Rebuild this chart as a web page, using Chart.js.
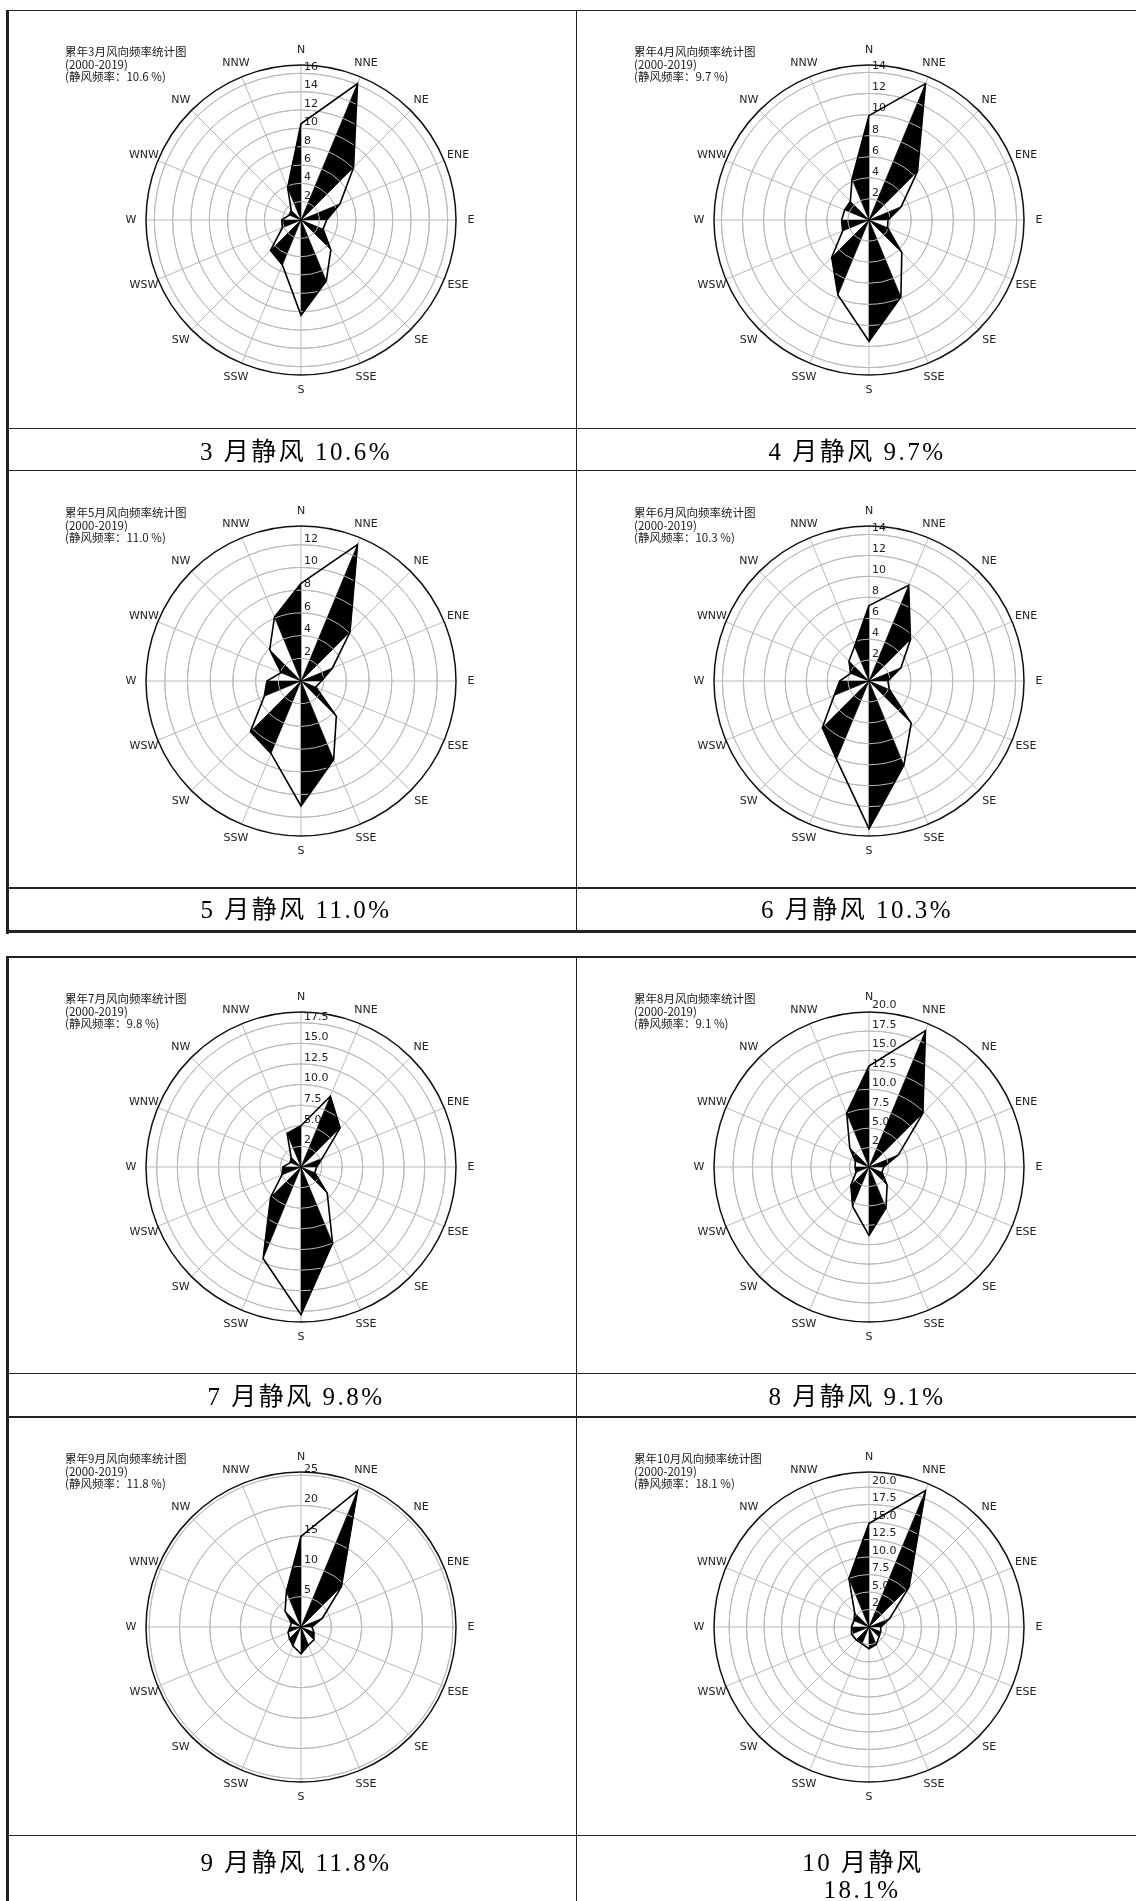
<!DOCTYPE html>
<html>
<head>
<meta charset="utf-8">
<script src="https://cdn.jsdelivr.net/npm/chart.js@4.4.1/dist/chart.umd.min.js"></script>
<style>
html,body{margin:0;padding:0;background:#fff;}
body{width:1136px;height:1901px;position:relative;overflow:hidden;}
.ln{position:absolute;background:#222;}
canvas{position:absolute;}
.title{position:absolute;font-family:"Noto Sans CJK SC","DejaVu Sans",sans-serif;font-size:11.5px;line-height:12.5px;color:#1a1a1a;white-space:pre;z-index:2;}
.cap{position:absolute;font-family:"Liberation Serif","Noto Sans CJK SC",serif;font-size:25px;letter-spacing:2.5px;color:#000;white-space:pre;transform:translate(-50%,-50%);line-height:1.2;}
</style>
</head>
<body>
<script>
// ---------------- data ----------------
const directions = ['N','NNE','NE','ENE','E','ESE','SE','SSE','S','SSW','SW','WSW','W','WNW','NW','NNW'];
const months = ['3','4','5','6','7','8','9','10'];
const calmRates = ['10.6','9.7','11.0','10.3','9.8','9.1','11.8','18.1'];
const period = '(2000-2019)';

const freqMar = [10.5, 16.1, 8.1, 4.6, 2.8, 2.6, 4.6, 7.2, 10.4, 5.3, 4.7, 2.2, 2.1, 1.4, 1.5, 3.8];
const freqApr = [9.9, 14.0, 6.5, 3.3, 1.8, 1.9, 4.4, 7.9, 11.5, 7.7, 5.0, 2.7, 2.6, 2.5, 2.5, 4.2];
const freqMay = [8.6, 13.0, 6.1, 3.0, 1.8, 1.4, 4.4, 7.5, 11.0, 6.9, 6.3, 3.5, 3.0, 1.9, 3.9, 6.1];
const freqJun = [7.2, 9.9, 5.6, 3.3, 1.8, 2.1, 5.7, 8.7, 14.1, 8.1, 6.3, 3.6, 2.8, 1.9, 2.7, 3.6];
const freqJul = [5.0, 9.3, 6.7, 2.8, 1.9, 1.8, 4.5, 10.0, 17.9, 12.0, 5.2, 2.5, 2.2, 1.4, 1.7, 4.4];
const freqAug = [13.0, 19.0, 9.8, 4.1, 1.9, 1.8, 3.3, 5.7, 8.8, 5.5, 3.3, 1.8, 1.8, 1.9, 3.5, 7.5];
const freqSep = [14.9, 24.3, 9.4, 3.8, 1.8, 2.3, 3.0, 3.2, 4.4, 3.4, 2.7, 2.3, 1.8, 1.7, 3.7, 6.3];
const freqOct = [14.8, 21.1, 8.1, 3.2, 1.7, 1.8, 2.0, 2.7, 3.1, 2.6, 2.6, 2.7, 2.5, 2.3, 2.9, 7.5];

const ticksMar = ['2','4','6','8','10','12','14','16'];
const ticksApr = ['2','4','6','8','10','12','14'];
const ticksMay = ['2','4','6','8','10','12'];
const ticksJun = ['2','4','6','8','10','12','14'];
const ticksJul = ['2.5','5.0','7.5','10.0','12.5','15.0','17.5'];
const ticksAug = ['2.5','5.0','7.5','10.0','12.5','15.0','17.5','20.0'];
const ticksSep = ['5','10','15','20','25'];
const ticksOct = ['2.5','5.0','7.5','10.0','12.5','15.0','17.5','20.0'];

const allFreq = [freqMar, freqApr, freqMay, freqJun, freqJul, freqAug, freqSep, freqOct];
const allTicks = [ticksMar, ticksApr, ticksMay, ticksJun, ticksJul, ticksAug, ticksSep, ticksOct];

// ---------------- layout ----------------
const centersX = [301, 869];
const centersY = [220, 681, 1167, 1627];
const titleX = [65, 634];
const SIZE = 440, PAD = 65;

function line(x, y, w, h) {
  const d = document.createElement('div');
  d.className = 'ln';
  d.style.left = x + 'px'; d.style.top = y + 'px';
  d.style.width = w + 'px'; d.style.height = h + 'px';
  document.body.appendChild(d);
}
// table 1
line(6, 9.5, 1130, 1.5);
line(6, 9.5, 3, 924);
line(6, 427.5, 1130, 1.5);
line(6, 469.8, 1130, 1.5);
line(6, 887, 1130, 1.5);
line(6, 929.5, 1130, 3.5);
line(576, 9.5, 1, 921);
// table 2
line(6, 956, 1130, 1.5);
line(6, 956, 3, 945);
line(6, 1372.5, 1130, 1.5);
line(6, 1416, 1130, 1.5);
line(6, 1834.5, 1130, 1.5);
line(576, 956, 1, 945);

function caption(text, x, y) {
  const d = document.createElement('div');
  d.className = 'cap';
  d.textContent = text;
  d.style.left = x + 'px'; d.style.top = y + 'px';
  document.body.appendChild(d);
}
const capX = [296, 857];
const capY = [451.5, 910, 1396.5, 1863];

const pairs = [[15,0],[1,2],[3,4],[5,6],[7,8],[9,10],[11,12],[13,14]];

const windRosePlugin = {
  id: 'windrose',
  beforeDatasetsDraw(chart, args, opts) {
    const s = chart.scales.r, ctx = chart.ctx;
    ctx.save();
    ctx.font = '11px "DejaVu Sans"';
    ctx.fillStyle = '#222';
    ctx.textAlign = 'left';
    ctx.textBaseline = 'middle';
    opts.tickLabels.forEach(t => {
      const r = s.getDistanceFromCenterForValue(parseFloat(t));
      ctx.fillText(t, s.xCenter + 3, s.yCenter - r - 6);
    });
    ctx.restore();
  },
  afterDatasetDraw(chart, args) {
    if (args.index !== 1) return;
    const s = chart.scales.r, ctx = chart.ctx;
    ctx.save();
    ctx.strokeStyle = '#b9b9b9';
    ctx.lineWidth = 1;
    s.ticks.forEach(t => {
      if (t.value <= 0) return;
      const r = s.getDistanceFromCenterForValue(t.value);
      ctx.beginPath();
      ctx.arc(s.xCenter, s.yCenter, r, 0, Math.PI * 2);
      ctx.stroke();
    });
    ctx.restore();
  },
  afterDatasetsDraw(chart) {
    const s = chart.scales.r, ctx = chart.ctx;
    ctx.save();
    ctx.strokeStyle = '#111';
    ctx.lineWidth = 1.5;
    ctx.beginPath();
    ctx.arc(s.xCenter, s.yCenter, s.drawingArea, 0, Math.PI * 2);
    ctx.stroke();
    ctx.font = '11px "DejaVu Sans"';
    ctx.fillStyle = '#222';
    ctx.textAlign = 'center';
    ctx.textBaseline = 'middle';
    chart.data.labels.forEach((lab, i) => {
      const p = s.getPointPosition(i, s.drawingArea + 15);
      ctx.fillText(lab, p.x, p.y);
    });
    ctx.restore();
  }
};

months.forEach((m, k) => {
  const col = k % 2, row = Math.floor(k / 2);
  const cx = centersX[col], cy = centersY[row];
  const values = allFreq[k];
  const tickLabels = allTicks[k];
  const step = parseFloat(tickLabels[1]) - parseFloat(tickLabels[0]);
  const rmax = 1.05 * Math.max(...values);

  // title
  const t = document.createElement('div');
  t.className = 'title';
  t.textContent = '累年' + m + '月风向频率统计图\n' + period + '\n(静风频率：' + calmRates[k] + ' %)';
  t.style.left = titleX[col] + 'px';
  t.style.top = (cy - 175) + 'px';
  document.body.appendChild(t);

  // canvas
  const c = document.createElement('canvas');
  c.width = SIZE; c.height = SIZE;
  c.style.width = SIZE + 'px'; c.style.height = SIZE + 'px';
  c.style.left = (cx - SIZE / 2) + 'px';
  c.style.top = (cy - SIZE / 2) + 'px';
  document.body.appendChild(c);

  const datasets = [{
    data: values,
    fill: false,
    borderColor: '#000',
    borderWidth: 1.6,
    borderJoinStyle: 'miter',
    pointRadius: 0,
    tension: 0
  }];
  pairs.forEach(([a, b]) => {
    datasets.push({
      data: values.map((v, i) => (i === a || i === b) ? v : 0),
      fill: 'origin',
      backgroundColor: '#000',
      borderColor: '#000',
      borderWidth: 0.5,
      pointRadius: 0,
      tension: 0
    });
  });

  new Chart(c, {
    type: 'radar',
    data: { labels: directions, datasets },
    options: {
      responsive: false,
      animation: false,
      devicePixelRatio: 1,
      layout: { padding: PAD },
      plugins: { legend: { display: false }, tooltip: { enabled: false }, windrose: { tickLabels } },
      elements: { line: { tension: 0 } },
      scales: {
        r: {
          min: 0,
          max: rmax,
          startAngle: 0,
          ticks: { display: false, stepSize: step, includeBounds: false },
          grid: { circular: true, color: '#b9b9b9', lineWidth: 1 },
          angleLines: { display: true, color: '#b9b9b9', lineWidth: 1 },
          pointLabels: { display: false }
        }
      }
    },
    plugins: [windRosePlugin]
  });

  // caption
  if (m === '10') {
    caption(m + ' 月静风', 863, capY[row]);
    caption(calmRates[k] + '%', 862, capY[row] + 27);
  } else {
    caption(m + ' 月静风 ' + calmRates[k] + '%', capX[col], capY[row]);
  }
});
</script>
</body>
</html>
